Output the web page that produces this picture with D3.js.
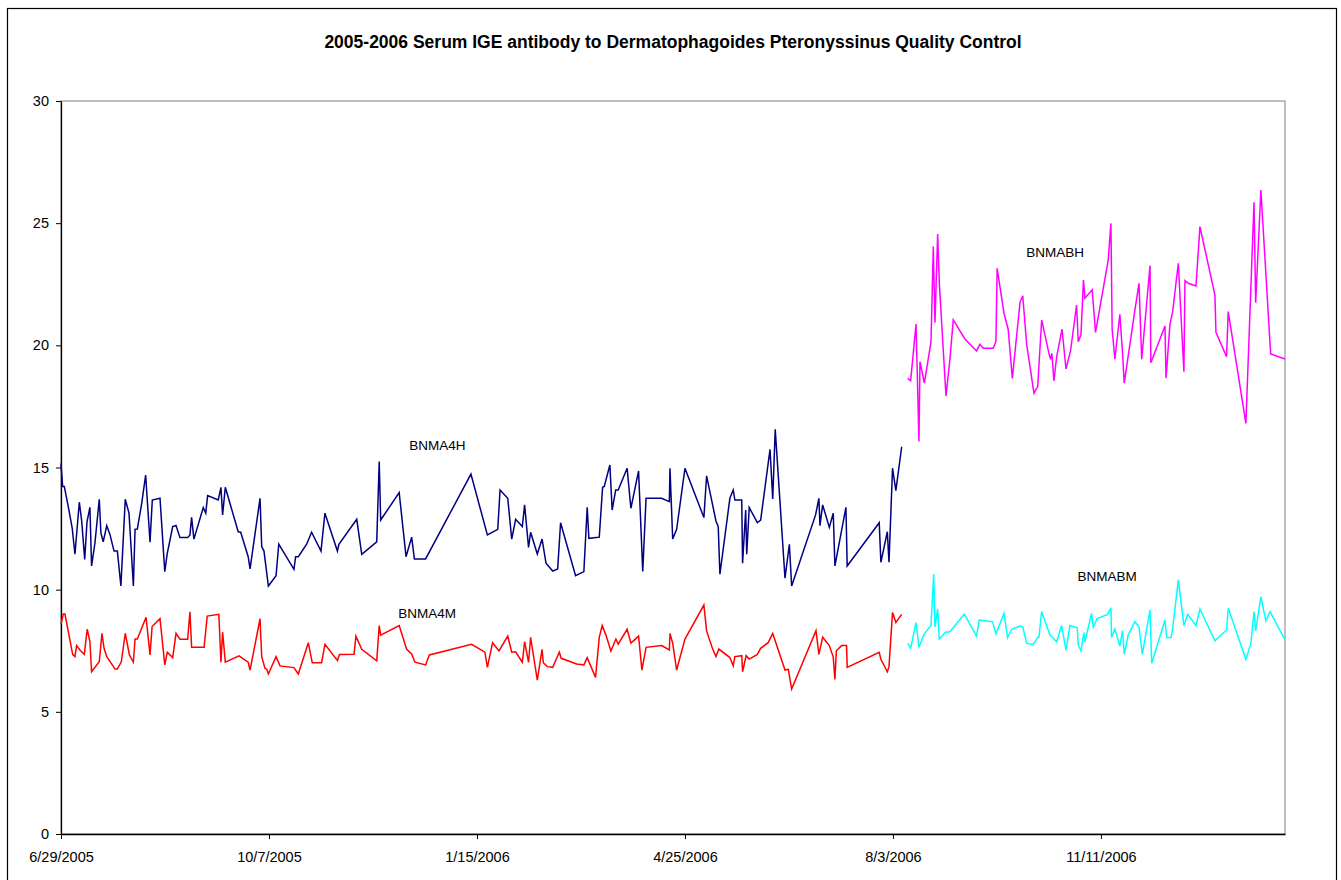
<!DOCTYPE html>
<html lang="en">
<head>
    <meta charset="UTF-8">
    <title>Serum IGE QC</title>
    <script src="https://d3js.org/d3.v7.min.js"></script>
    <style>
        body { margin: 0; background: #fff; }
        text { font-family: "Liberation Sans", Arial, sans-serif; }
    </style>
</head>
<body>
<script>
    // chart data: days after 6/29/2005 and measured values
    startDate = "6/29/2005"
    endDay = 588.5

    xTickLabels = ["6/29/2005", "10/7/2005", "1/15/2006", "4/25/2006", "8/3/2006", "11/11/2006"]
    yTicks = [0, 5, 10, 15, 20, 25, 30]

    bnma4hDays = [0, 0.8, 1.6, 3.5, 5.4, 6.7, 8.8, 9.9, 11.4, 12.5, 13.9, 14.7, 16.3, 18.4, 19.2, 20.3, 22, 23.6, 25.5, 27.1,
        28.8, 30.9, 32.7, 34.8, 35.6, 36.7, 38.8, 40.7, 42.8, 43.9, 47.6, 49.9, 51.1, 53.7, 55.3, 57.2, 60.9, 62, 62.8, 63.9,
        68.4, 69.6, 70.5, 75.6, 76.9, 77.7, 79, 85.2, 86.4, 90, 90.9, 95.7, 96.5, 97.6, 99.7, 103.4, 104.7, 112, 112.8, 114.1,
        118.1, 120.5, 125, 126.9, 132.9, 133.6, 142.2, 144.6, 151.8, 153, 153.7, 162.6, 165.9, 168.6, 169.9, 175.3, 197.1, 205, 210, 211.1,
        214.8, 216.7, 218.6, 221.8, 222.9, 224.8, 225.8, 229, 231.3, 233.2, 236.4, 238.8, 240.2, 247.4, 251.4, 253, 253.8, 258.8, 260.4, 261.2,
        263.9, 265, 266.7, 267.9, 272.2, 274, 277.7, 279.7, 281.3, 288.8, 292.5, 292.8, 294.1, 296, 300, 309.1, 310.4, 314.9, 316, 316.8,
        321.6, 323.2, 324, 327.3, 327.7, 329.2, 329.7, 330.9, 334.8, 336.4, 340.9, 342.2, 343.4, 348.1, 350.2, 351.3, 362.8, 364.4, 364.9, 366.2,
        369.4, 371.3, 372.1, 377.4, 378, 393.4, 394.2, 397.3, 398.1, 399.8, 401.4, 404.2]
    bnma4hValues = [15.17, 14.22, 14.22, 13.40, 12.51, 11.45, 13.58, 12.85, 11.24, 12.78, 13.37, 10.97, 11.90, 13.70, 12.31, 11.96, 12.62, 12.24, 11.58, 11.58,
        10.15, 13.70, 13.13, 10.15, 12.47, 12.48, 13.53, 14.69, 11.94, 13.67, 13.74, 10.74, 11.49, 12.58, 12.63, 12.13, 12.13, 12.24, 12.96, 12.07,
        13.36, 13.13, 13.85, 13.67, 14.19, 13.06, 14.19, 12.37, 12.35, 11.35, 10.85, 13.74, 11.76, 11.58, 10.15, 10.57, 11.86, 10.83, 11.35, 11.35,
        11.86, 12.35, 11.58, 13.13, 11.58, 11.86, 12.88, 11.45, 11.96, 15.24, 12.85, 13.97, 11.35, 12.15, 11.26, 11.26, 14.73, 12.24, 12.47, 14.08,
        13.74, 12.07, 12.88, 12.58, 13.47, 11.73, 12.35, 11.46, 12.07, 11.08, 10.76, 10.85, 12.74, 10.57, 10.74, 13.37, 12.10, 12.15, 14.19, 14.22,
        15.10, 13.26, 14.08, 14.08, 14.97, 13.33, 14.86, 10.74, 13.74, 13.74, 13.60, 14.97, 12.07, 12.47, 14.97, 12.95, 14.66, 12.81, 12.58, 10.63,
        13.74, 14.08, 13.67, 13.67, 11.08, 13.26, 11.45, 13.36, 12.74, 12.85, 15.74, 13.71, 16.56, 10.47, 11.86, 10.15, 13.06, 13.74, 12.62, 13.47,
        12.55, 13.13, 10.97, 13.37, 10.97, 12.74, 11.12, 12.37, 11.12, 14.97, 14.05, 15.85]

    bnma4mDays = [0, 1.1, 1.9, 5.6, 6.7, 7.5, 9.1, 11.2, 12.6, 13.9, 14.7, 18.4, 19.7, 20.7, 22, 26, 27.1, 29, 30.9, 32.9,
        34.8, 35.6, 36.7, 40.9, 42.8, 43.8, 47.6, 49.9, 51.1, 53.7, 55.3, 57.2, 60.9, 62, 62.8, 68.8, 70.3, 75.9, 76.9, 77.7,
        79, 85.6, 90, 90.9, 95.7, 96.5, 98.1, 98.9, 99.7, 103.4, 105.3, 112, 114.1, 118.9, 120.8, 125.3, 126.9, 132.9, 133.9, 140.9,
        141.8, 144.6, 151.8, 153, 153.7, 162.6, 166.2, 168.6, 170.2, 175.3, 177.1, 197.4, 203.8, 205, 207.5, 210.6, 214.8, 216.7, 218.6, 221.8,
        222.9, 224.8, 225.8, 229, 231.3, 231.9, 233.8, 236.4, 239.6, 240.5, 247.9, 251.4, 253, 257, 258.8, 260.2, 262, 264.4, 266.8, 267.9,
        272.2, 274, 277.7, 279.3, 281.3, 288.8, 292.5, 292.8, 294.1, 296, 300, 309.1, 310.4, 313.1, 314.9, 316.3, 321.6, 323.2, 324, 327.3,
        327.7, 329.4, 330.9, 334.8, 336.4, 340, 342.2, 348.1, 349.7, 351.3, 363, 364.4, 366.2, 369.4, 371.3, 372.1, 372.8, 375.3, 377.7, 378,
        393.4, 394.2, 397.3, 398.1, 399.8, 401.4, 404.2]
    bnma4mValues = [8.59, 9.00, 9.00, 7.35, 7.26, 7.71, 7.53, 7.35, 8.38, 7.87, 6.64, 7.05, 8.21, 7.60, 7.26, 6.75, 6.75, 7.05, 8.21, 7.33,
        7.03, 7.98, 7.98, 8.87, 7.33, 8.49, 8.81, 6.92, 7.44, 7.22, 8.21, 7.97, 7.97, 9.09, 7.64, 7.64, 8.92, 8.99, 7.03, 8.26,
        7.03, 7.29, 7.03, 6.71, 8.81, 7.26, 6.78, 6.75, 6.55, 7.26, 6.88, 6.81, 6.55, 7.83, 7.01, 7.01, 7.76, 7.10, 7.35, 7.36,
        8.10, 7.56, 7.09, 8.53, 8.14, 8.53, 7.56, 7.37, 7.03, 6.92, 7.33, 7.76, 7.44, 6.82, 7.83, 7.49, 8.10, 7.44, 7.46, 7.03,
        7.87, 7.03, 8.05, 6.30, 7.56, 7.01, 6.85, 6.82, 7.44, 7.19, 6.96, 6.92, 7.22, 6.41, 8.05, 8.53, 8.14, 7.49, 7.98, 7.77,
        8.38, 7.81, 8.10, 6.71, 7.64, 7.71, 7.53, 8.21, 7.81, 6.71, 7.98, 9.37, 8.31, 7.62, 7.26, 7.57, 7.22, 6.88, 7.26, 7.30,
        6.64, 7.30, 7.16, 7.35, 7.60, 7.83, 8.21, 6.71, 6.74, 5.93, 8.32, 7.35, 8.05, 7.71, 7.24, 6.33, 7.50, 7.71, 7.71, 6.82,
        7.44, 7.15, 6.64, 6.85, 9.07, 8.66, 8.99]

    bnmabhDays = [407.1, 408.5, 411.1, 412.5, 413, 415.1, 418.3, 419.4, 420.2, 421.5, 422.3, 425.5, 427.4, 429, 434.6, 440.2, 441.8, 443.4, 448.2, 449.5,
        450.1, 453.4, 455.4, 457.4, 461.1, 462.4, 464.3, 467.8, 469.6, 471.5, 475, 475.8, 476.4, 477.4, 478.7, 481.3, 483.2, 485.4, 488.3, 489.1,
        490.4, 491.6, 492.3, 495.8, 497.4, 503.5, 504.8, 505.4, 506.7, 509.1, 510.4, 511.2, 516.3, 518.3, 519.6, 523.6, 524, 530.8, 531.3, 533.2,
        534.5, 537.2, 539.9, 540.4, 542, 545.7, 547.6, 554.8, 555.3, 560.4, 561.2, 569.7, 573.6, 574.4, 576.9, 581.6, 588.5]
    bnmabhValues = [18.65, 18.55, 20.87, 16.06, 19.33, 18.45, 20.15, 24.04, 20.93, 24.56, 22.54, 17.93, 19.43, 21.04, 20.26, 19.77, 20.04, 19.88, 19.88, 20.15,
        23.15, 21.31, 20.66, 18.65, 21.76, 22.03, 20.04, 18.04, 18.31, 21.04, 19.67, 19.43, 19.67, 18.54, 19.53, 20.66, 19.03, 19.78, 21.65, 20.15,
        20.43, 22.67, 21.93, 22.27, 20.53, 23.49, 24.99, 20.66, 19.43, 21.27, 19.67, 18.45, 21.42, 22.54, 19.43, 23.26, 19.29, 20.79, 18.65, 20.87,
        21.38, 23.36, 18.92, 22.65, 22.54, 22.43, 24.86, 22.06, 20.53, 19.53, 21.38, 16.81, 25.86, 21.74, 26.36, 19.65, 19.44]

    bnmabmDays = [407.1, 408.5, 411.1, 412.5, 415.1, 418.3, 419.6, 420.2, 421.5, 422.3, 425.3, 427.4, 434.3, 440.2, 441.5, 447.9, 449.5, 453.4, 455.1, 457.1,
        461.1, 462.4, 464.3, 467.5, 469.6, 470.2, 471.5, 475.5, 477.1, 478.7, 481.1, 483.2, 485.1, 488.6, 489.1, 490.4, 491.8, 492.3, 495.5, 496.3,
        498.2, 503.2, 504.8, 505.1, 506.7, 509.1, 510.4, 511.2, 513.1, 516.3, 518.3, 519.9, 523.6, 524.4, 530.8, 531.6, 533.7, 534.5, 537.2, 539.9,
        541.7, 545.7, 547.6, 554.8, 560.4, 561.2, 569.7, 572.1, 573.6, 574.4, 576.9, 579.3, 581.3, 588.5]
    bnmabmValues = [7.80, 7.60, 8.65, 7.64, 8.19, 8.53, 10.64, 8.48, 9.21, 7.98, 8.26, 8.28, 9.00, 8.10, 8.76, 8.69, 8.19, 9.03, 8.04, 8.38,
        8.51, 8.48, 7.80, 7.76, 8.05, 8.05, 9.10, 8.14, 8.01, 7.87, 8.53, 7.53, 8.53, 8.44, 7.74, 7.49, 8.24, 7.87, 9.03, 8.48,
        8.82, 8.99, 9.26, 8.04, 8.39, 7.69, 8.32, 7.35, 8.14, 8.69, 8.48, 7.35, 9.17, 6.99, 8.76, 8.04, 8.04, 8.42, 10.40, 8.53,
        8.99, 8.53, 9.21, 7.91, 8.35, 9.24, 7.15, 7.80, 9.10, 8.31, 9.71, 8.72, 9.10, 7.94]

    seriesNames = ["BNMA4H", "BNMA4M", "BNMABH", "BNMABM"]

    parseDate = d3.utcParse("%m/%d/%Y")
    formatDate = d3.utcFormat("%-m/%-d/%Y")
    start = parseDate(startDate)
    dayToDate = (d) => new Date(start.getTime() + d * 864e5)

    series = [
        {name: seriesNames[0], days: bnma4hDays, values: bnma4hValues, color: "#000080", label: [181, 15.9]},
        {name: seriesNames[1], days: bnma4mDays, values: bnma4mValues, color: "#ff0000", label: [176, 9.05]},
        {name: seriesNames[2], days: bnmabhDays, values: bnmabhValues, color: "#ff00ff", label: [478, 23.8]},
        {name: seriesNames[3], days: bnmabmDays, values: bnmabmValues, color: "#00ffff", label: [503, 10.55]}
    ]

    //chart dimensions
    w = 1341
    h = 880
    margin = {top: 101, right: 56, bottom: 46, left: 61}
    width = w - margin.left - margin.right
    height = h - margin.top - margin.bottom

    root = d3.select("body")
        .append("svg")
        .attr("width", w)
        .attr("height", h)

    // outer chart frame
    root.append("rect")
        .attr("x", 7.5)
        .attr("y", 8.5)
        .attr("width", 1329)
        .attr("height", 900)
        .attr("fill", "none")
        .attr("stroke", "#000")
        .attr("stroke-width", 1.2)

    root.append("text")
        .attr("x", 673)
        .attr("y", 48)
        .attr("text-anchor", "middle")
        .attr("font-size", "17.5px")
        .attr("font-weight", "bold")
        .text("2005-2006 Serum IGE antibody to Dermatophagoides Pteronyssinus Quality Control")

    svg = root.append("g")
        .attr("transform", "translate(" + margin.left + "," + margin.top + ")")

    //scales
    x = d3.scaleUtc()
        .domain([start, dayToDate(endDay)])
        .range([0, width])

    y = d3.scaleLinear()
        .domain([0, 30])
        .range([height, 0])

    // plot area border (grey top and right)
    svg.append("rect")
        .attr("width", width)
        .attr("height", height)
        .attr("fill", "none")
        .attr("stroke", "#808080")
        .attr("stroke-width", 1)

    // x axis
    xAxis = svg.append("g")
        .attr("transform", "translate(0," + height + ")")
        .call(d3.axisBottom(x)
            .tickValues(xTickLabels.map(parseDate))
            .tickFormat(formatDate)
            .tickSize(5)
            .tickSizeOuter(0))
    xAxis.select(".domain").attr("stroke", "#000").attr("stroke-width", 1.3)
    xAxis.selectAll("text")
        .attr("dy", "0")
        .attr("y", 28)
        .attr("font-size", "14.5px")
        .attr("font-family", "Liberation Sans, Arial, sans-serif")
        .attr("fill", "#000")

    // y axis
    yAxis = svg.append("g")
        .call(d3.axisLeft(y)
            .tickValues(yTicks)
            .tickSize(5)
            .tickSizeOuter(0)
            .tickPadding(7))
    yAxis.select(".domain").attr("stroke", "#000").attr("stroke-width", 1.3)
    yAxis.selectAll("text")
        .attr("font-size", "14.5px")
        .attr("font-family", "Liberation Sans, Arial, sans-serif")
        .attr("fill", "#000")

    line = d3.line()
        .x((d) => x(dayToDate(d[0])))
        .y((d) => y(d[1]))

    svg.selectAll("path.series")
        .data(series)
        .enter()
        .append("path")
        .attr("class", "series")
        .attr("fill", "none")
        .attr("stroke", (d) => d.color)
        .attr("stroke-width", 1.5)
        .attr("stroke-linejoin", "miter")
        .attr("d", (d) => line(d.days.map((v, i) => [v, d.values[i]])))

    svg.selectAll("text.label")
        .data(series)
        .enter()
        .append("text")
        .attr("class", "label")
        .attr("x", (d) => x(dayToDate(d.label[0])))
        .attr("y", (d) => y(d.label[1]))
        .attr("dy", "0.35em")
        .attr("text-anchor", "middle")
        .attr("font-size", "13.5px")
        .attr("fill", "#000")
        .text((d) => d.name)
</script>
</body>
</html>
